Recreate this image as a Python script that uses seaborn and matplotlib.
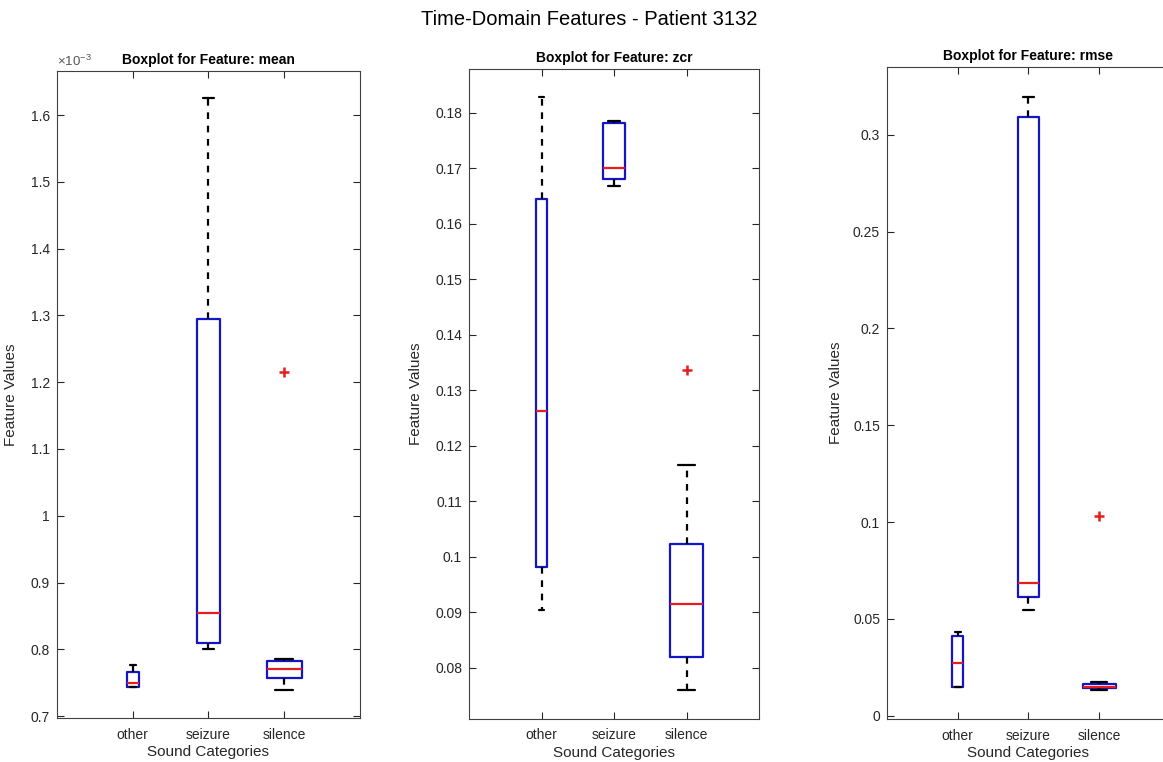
import numpy as np
import matplotlib
matplotlib.use("Agg")
import matplotlib.pyplot as plt
from matplotlib.ticker import FuncFormatter, MultipleLocator
import seaborn as sns

sns.set_theme(style="white")
plt.rcParams["font.family"] = ["Liberation Sans", "DejaVu Sans"]
plt.rcParams["mathtext.default"] = "regular"

categories = ["other", "seizure", "silence"]
features = ["mean", "zcr", "rmse"]

# Box statistics per category (other, seizure, silence)
mean_whislo = np.array([0.743, 0.801, 0.739]) * 1e-3
mean_q1 = np.array([0.743, 0.810, 0.757]) * 1e-3
mean_med = np.array([0.750, 0.855, 0.771]) * 1e-3
mean_q3 = np.array([0.766, 1.294, 0.782]) * 1e-3
mean_whishi = np.array([0.777, 1.625, 0.785]) * 1e-3
mean_fliers = [[], [], [1.215e-3]]

zcr_whislo = [0.0903, 0.1668, 0.0760]
zcr_q1 = [0.0982, 0.1680, 0.0819]
zcr_med = [0.1262, 0.1700, 0.0915]
zcr_q3 = [0.1644, 0.1781, 0.1022]
zcr_whishi = [0.1828, 0.1786, 0.1166]
zcr_fliers = [[], [], [0.1337]]

rmse_whislo = [0.0150, 0.0546, 0.0133]
rmse_q1 = [0.0150, 0.0612, 0.0142]
rmse_med = [0.0271, 0.0687, 0.0150]
rmse_q3 = [0.0412, 0.3094, 0.0164]
rmse_whishi = [0.0434, 0.3194, 0.0172]
rmse_fliers = [[], [], [0.1033]]

summaries = {
    "mean": (mean_whislo, mean_q1, mean_med, mean_q3, mean_whishi, mean_fliers),
    "zcr": (zcr_whislo, zcr_q1, zcr_med, zcr_q3, zcr_whishi, zcr_fliers),
    "rmse": (rmse_whislo, rmse_q1, rmse_med, rmse_q3, rmse_whishi, rmse_fliers),
}

# axis layout (figure fractions) and value ranges
axes_rects = {
    "mean": [0.0490, 0.0577, 0.2605, 0.849],
    "zcr": [0.4033, 0.0570, 0.2494, 0.853],
    "rmse": [0.7627, 0.0564, 0.2433, 0.8556],
}
ylims = {"mean": (0.697e-3, 1.666e-3), "zcr": (0.0708, 0.188), "rmse": (-0.0017, 0.335)}
ysteps = {"mean": 0.1e-3, "zcr": 0.01, "rmse": 0.05}
ylabel_x = {"mean": -0.129, "zcr": -0.159, "rmse": -0.157}

blue = "#1414c8"
red = "#e81c1c"
ink = "#262626"
widths = [0.16, 0.31, 0.46]

fig = plt.figure(figsize=(11.63, 7.62), dpi=100)
fig.patch.set_facecolor("white")

for feat in features:
    ax = fig.add_axes(axes_rects[feat])
    whislo, q1, med, q3, whishi, fliers = summaries[feat]
    stats = []
    for i, cat in enumerate(categories):
        stats.append(dict(label=cat, whislo=whislo[i], q1=q1[i], med=med[i],
                          q3=q3[i], whishi=whishi[i], fliers=fliers[i]))
    ax.bxp(stats, positions=[1, 2, 3], widths=widths,
           capwidths=[w / 2 for w in widths],
           boxprops=dict(color=blue, linewidth=1.6),
           medianprops=dict(color=red, linewidth=1.6),
           whiskerprops=dict(color="black", linewidth=1.6, linestyle=(0, (3, 3))),
           capprops=dict(color="black", linewidth=1.6),
           flierprops=dict(marker="+", markeredgecolor=red, markersize=7,
                           markeredgewidth=1.8, linestyle="none"))
    ax.set_xlim(0, 4)
    ax.set_ylim(*ylims[feat])
    ax.yaxis.set_major_locator(MultipleLocator(ysteps[feat]))
    if feat == "mean":
        ax.yaxis.set_major_formatter(FuncFormatter(lambda v, p: f"{v * 1e3:g}"))
        ax.text(0.0, 1.003, r"$\times$10$^{-3}$", transform=ax.transAxes,
                ha="left", va="bottom", fontsize=9.5, color="#555555")
    else:
        ax.yaxis.set_major_formatter(FuncFormatter(lambda v, p: f"{round(v, 6):g}"))
    ax.set_xticks([1, 2, 3])
    ax.set_xticklabels(categories)
    ax.tick_params(direction="in", left=True, bottom=True, top=True, right=True,
                   length=5, width=0.8, colors=ink, labelsize=10, pad=7)
    ax.tick_params(axis="y", pad=5)
    for s in ax.spines.values():
        s.set_color("#404040")
        s.set_linewidth(0.8)
    ax.set_facecolor("white")
    ax.set_title(f"Boxplot for Feature: {feat}", fontsize=10, fontweight="bold",
                 color="black", pad=5)
    ax.set_xlabel("Sound Categories", fontsize=11, color=ink)
    ax.set_ylabel("Feature Values", fontsize=11, color=ink)
    ax.xaxis.set_label_coords(0.5, -0.042)
    ax.yaxis.set_label_coords(ylabel_x[feat], 0.5)
    ax.grid(False)

fig.text(0.5065, 0.974, "Time-Domain Features - Patient 3132", ha="center",
         va="center", fontsize=14.5, color="black")

fig.savefig("out.png", dpi=100, facecolor="white")
